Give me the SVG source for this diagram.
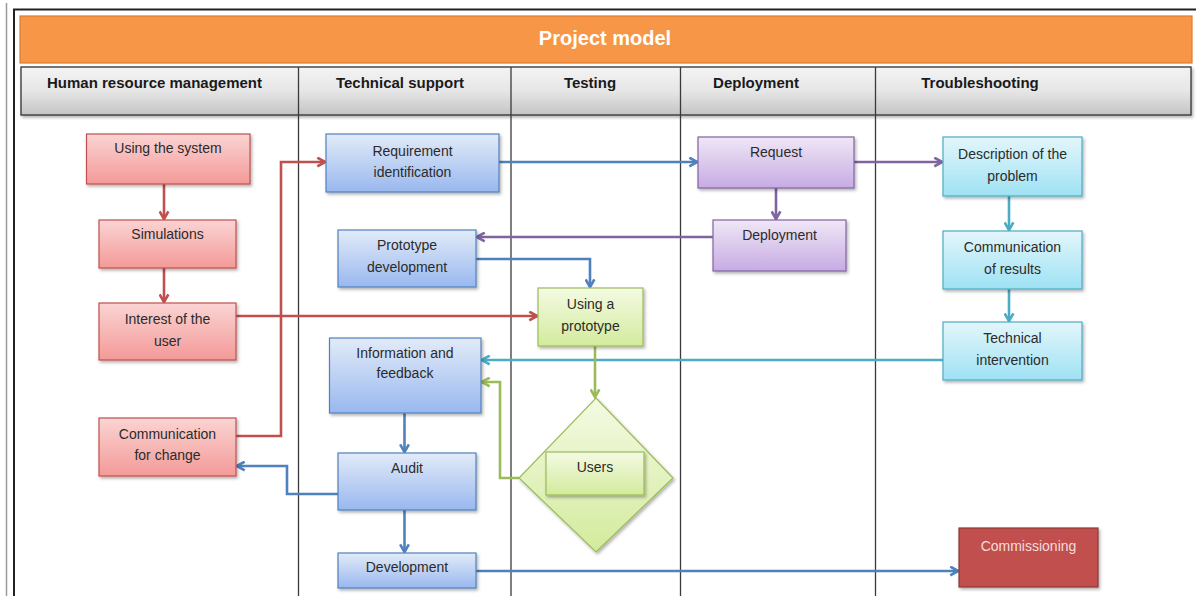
<svg xmlns="http://www.w3.org/2000/svg" width="1196" height="596" viewBox="0 0 1196 596">
  <style>
    .lbl { font-family: "Liberation Sans", Arial, sans-serif; font-size: 14px; fill: #2b2b2b; text-anchor: middle; }
    .hdr { font-family: "Liberation Sans", Arial, sans-serif; font-size: 15px; font-weight: bold; fill: #1a1a1a; text-anchor: middle; }
    .ttl { font-family: "Liberation Sans", Arial, sans-serif; font-size: 20px; font-weight: bold; fill: #ffffff; text-anchor: middle; }
    .lane { stroke: #3a3a3a; stroke-width: 1.3; }
    .n-red { fill: url(#gRed); stroke: #c0504d; stroke-width: 1.2; filter: url(#shadow); }
    .n-blue { fill: url(#gBlue); stroke: #4f81bd; stroke-width: 1.2; filter: url(#shadow); }
    .n-purple { fill: url(#gPurple); stroke: #8064a2; stroke-width: 1.2; filter: url(#shadow); }
    .n-cyan { fill: url(#gCyan); stroke: #4bacc6; stroke-width: 1.2; filter: url(#shadow); }
    .n-green { fill: url(#gGreen); stroke: #9bbb59; stroke-width: 1.2; filter: url(#shadow); }
    .c { fill: none; stroke-width: 2.6; stroke-linejoin: miter; }
    .c-red { stroke: #c0504d; marker-end: url(#aRed); }
    .c-blue { stroke: #4f81bd; marker-end: url(#aBlue); }
    .c-purple { stroke: #8064a2; marker-end: url(#aPurple); }
    .c-cyan { stroke: #4bacc6; marker-end: url(#aCyan); }
    .c-green { stroke: #9bbb59; marker-end: url(#aGreen); }
  </style>
  <defs>
    <linearGradient id="gRed" x1="0" y1="0" x2="0" y2="1">
      <stop offset="0" stop-color="#fad4d3"/>
      <stop offset="1" stop-color="#f39a98"/>
    </linearGradient>
    <linearGradient id="gBlue" x1="0" y1="0" x2="0" y2="1">
      <stop offset="0" stop-color="#e2ebf8"/>
      <stop offset="1" stop-color="#99b8ef"/>
    </linearGradient>
    <linearGradient id="gPurple" x1="0" y1="0" x2="0" y2="1">
      <stop offset="0" stop-color="#efe7f6"/>
      <stop offset="1" stop-color="#c7abe3"/>
    </linearGradient>
    <linearGradient id="gCyan" x1="0" y1="0" x2="0" y2="1">
      <stop offset="0" stop-color="#e3f6fb"/>
      <stop offset="1" stop-color="#9ee2f4"/>
    </linearGradient>
    <linearGradient id="gGreen" x1="0" y1="0" x2="0" y2="1">
      <stop offset="0" stop-color="#f4fae4"/>
      <stop offset="1" stop-color="#d3eb9c"/>
    </linearGradient>
    <linearGradient id="gHead" x1="0" y1="0" x2="0" y2="1">
      <stop offset="0" stop-color="#f4f4f4"/>
      <stop offset="0.5" stop-color="#e6e6e6"/>
      <stop offset="1" stop-color="#c4c4c4"/>
    </linearGradient>
    <filter id="shadow" x="-10%" y="-10%" width="125%" height="130%">
      <feDropShadow dx="1.5" dy="2" stdDeviation="1.5" flood-color="#000" flood-opacity="0.3"/>
    </filter>
    <marker id="aRed" viewBox="0 0 10 10" refX="8.5" refY="5" markerWidth="11" markerHeight="11" markerUnits="userSpaceOnUse" orient="auto">
      <path d="M1.5,1 L8.5,5 L1.5,9" fill="none" stroke="#c0504d" stroke-width="2.4"/>
    </marker>
    <marker id="aBlue" viewBox="0 0 10 10" refX="8.5" refY="5" markerWidth="11" markerHeight="11" markerUnits="userSpaceOnUse" orient="auto">
      <path d="M1.5,1 L8.5,5 L1.5,9" fill="none" stroke="#4f81bd" stroke-width="2.4"/>
    </marker>
    <marker id="aPurple" viewBox="0 0 10 10" refX="8.5" refY="5" markerWidth="11" markerHeight="11" markerUnits="userSpaceOnUse" orient="auto">
      <path d="M1.5,1 L8.5,5 L1.5,9" fill="none" stroke="#8064a2" stroke-width="2.4"/>
    </marker>
    <marker id="aCyan" viewBox="0 0 10 10" refX="8.5" refY="5" markerWidth="11" markerHeight="11" markerUnits="userSpaceOnUse" orient="auto">
      <path d="M1.5,1 L8.5,5 L1.5,9" fill="none" stroke="#4bacc6" stroke-width="2.4"/>
    </marker>
    <marker id="aGreen" viewBox="0 0 10 10" refX="8.5" refY="5" markerWidth="11" markerHeight="11" markerUnits="userSpaceOnUse" orient="auto">
      <path d="M1.5,1 L8.5,5 L1.5,9" fill="none" stroke="#9bbb59" stroke-width="2.4"/>
    </marker>
  </defs>

  <rect x="0" y="0" width="1196" height="596" fill="#ffffff"/>

  <!-- pool frame -->
  <g id="frame">
    <line x1="6.5" y1="3" x2="6.5" y2="596" stroke="#9a9a9a" stroke-width="1.5"/>
    <path d="M14,596 V9.5 H1196" fill="none" stroke="#222" stroke-width="2"/>
  </g>

  <!-- title bar -->
  <g id="title">
    <rect x="20" y="16" width="1172" height="47" fill="#f79646" stroke="#e07b2e" stroke-width="1.2"/>
    <text class="ttl" x="605" y="45">Project model</text>
  </g>

  <!-- lane header row -->
  <g id="lane-headers">
    <rect x="21" y="67" width="1170" height="48" fill="url(#gHead)" stroke="#333" stroke-width="1.3" filter="url(#shadow)"/>
    <text class="hdr" x="154.5" y="88">Human resource management</text>
    <text class="hdr" x="400" y="88">Technical support</text>
    <text class="hdr" x="590" y="88">Testing</text>
    <text class="hdr" x="756" y="88">Deployment</text>
    <text class="hdr" x="980" y="88">Troubleshooting</text>
  </g>

  <!-- lane separators -->
  <g id="lanes">
    <line class="lane" x1="298.5" y1="67" x2="298.5" y2="596"/>
    <line class="lane" x1="511" y1="67" x2="511" y2="596"/>
    <line class="lane" x1="680.5" y1="67" x2="680.5" y2="596"/>
    <line class="lane" x1="875.5" y1="67" x2="875.5" y2="596"/>
  </g>

  <!-- connectors -->
  <g id="connectors">
    <path class="c c-red" d="M164,184 V219"/>
    <path class="c c-red" d="M164,268 V302"/>
    <path class="c c-red" d="M236,316 H537"/>
    <path class="c c-red" d="M236,436 H281 V162 H325"/>
    <path class="c c-blue" d="M499,162 H697"/>
    <path class="c c-blue" d="M476,259 H590 V287"/>
    <path class="c c-blue" d="M404.5,413 V452"/>
    <path class="c c-blue" d="M404.5,510 V552"/>
    <path class="c c-blue" d="M338,494 H287 V466 H237"/>
    <path class="c c-blue" d="M476,571 H958"/>
    <path class="c c-purple" d="M854,162 H942"/>
    <path class="c c-purple" d="M776,188 V219"/>
    <path class="c c-purple" d="M713,237 H477"/>
    <path class="c c-cyan" d="M1009,196 V230"/>
    <path class="c c-cyan" d="M1009,289 V321"/>
    <path class="c c-cyan" d="M943,360 H482"/>
    <path class="c c-green" d="M595,346 V397"/>
    <path class="c c-green" d="M519,478 H500 V382 H482"/>
  </g>

  <!-- Human resource management lane -->
  <g id="using-the-system">
    <rect class="n-red" x="86.5" y="134" width="163.5" height="50"/>
    <text class="lbl" x="168" y="153">Using the system</text>
  </g>
  <g id="simulations">
    <rect class="n-red" x="99" y="220" width="137" height="48"/>
    <text class="lbl" x="167.5" y="239">Simulations</text>
  </g>
  <g id="interest-of-the-user">
    <rect class="n-red" x="99" y="303" width="137" height="57"/>
    <text class="lbl" x="167.5" y="324">Interest of the</text>
    <text class="lbl" x="167.5" y="346">user</text>
  </g>
  <g id="communication-for-change">
    <rect class="n-red" x="99" y="418" width="137" height="58"/>
    <text class="lbl" x="167.5" y="439">Communication</text>
    <text class="lbl" x="167.5" y="460">for change</text>
  </g>

  <!-- Technical support lane -->
  <g id="requirement-identification">
    <rect class="n-blue" x="326" y="134" width="173" height="58"/>
    <text class="lbl" x="412.5" y="156">Requirement</text>
    <text class="lbl" x="412.5" y="177">identification</text>
  </g>
  <g id="prototype-development">
    <rect class="n-blue" x="338" y="230" width="138" height="57"/>
    <text class="lbl" x="407" y="250">Prototype</text>
    <text class="lbl" x="407" y="272">development</text>
  </g>
  <g id="information-and-feedback">
    <rect class="n-blue" x="329.5" y="338" width="151.5" height="75"/>
    <text class="lbl" x="405" y="358">Information and</text>
    <text class="lbl" x="405" y="378">feedback</text>
  </g>
  <g id="audit">
    <rect class="n-blue" x="338" y="453" width="138" height="57"/>
    <text class="lbl" x="407" y="473">Audit</text>
  </g>
  <g id="development">
    <rect class="n-blue" x="338" y="553" width="138" height="35"/>
    <text class="lbl" x="407" y="572">Development</text>
  </g>

  <!-- Testing lane -->
  <g id="using-a-prototype">
    <rect class="n-green" x="538" y="288" width="105" height="58"/>
    <text class="lbl" x="590.5" y="309">Using a</text>
    <text class="lbl" x="590.5" y="331">prototype</text>
  </g>
  <g id="users">
    <polygon class="n-green" points="596,398 673,478 596,552 519,478"/>
    <rect x="546" y="452" width="98" height="43" fill="url(#gGreen)" stroke="#9bbb59" stroke-width="1.2" filter="url(#shadow)"/>
    <text class="lbl" x="595" y="472">Users</text>
  </g>

  <!-- Deployment lane -->
  <g id="request">
    <rect class="n-purple" x="698" y="137" width="156" height="51"/>
    <text class="lbl" x="776" y="157">Request</text>
  </g>
  <g id="deployment">
    <rect class="n-purple" x="713" y="220" width="133" height="51"/>
    <text class="lbl" x="779.5" y="240">Deployment</text>
  </g>

  <!-- Troubleshooting lane -->
  <g id="description-of-the-problem">
    <rect class="n-cyan" x="943" y="137" width="139" height="59"/>
    <text class="lbl" x="1012.5" y="159">Description of the</text>
    <text class="lbl" x="1012.5" y="181">problem</text>
  </g>
  <g id="communication-of-results">
    <rect class="n-cyan" x="943" y="231" width="139" height="58"/>
    <text class="lbl" x="1012.5" y="252">Communication</text>
    <text class="lbl" x="1012.5" y="274">of results</text>
  </g>
  <g id="technical-intervention">
    <rect class="n-cyan" x="943" y="322" width="139" height="58"/>
    <text class="lbl" x="1012.5" y="343">Technical</text>
    <text class="lbl" x="1012.5" y="365">intervention</text>
  </g>
  <g id="commissioning">
    <rect x="959" y="528" width="139" height="59" fill="#c0504d" stroke="#8c3836" stroke-width="1.2" filter="url(#shadow)"/>
    <text class="lbl" x="1028.5" y="551" style="fill:#f6dcdb">Commissioning</text>
  </g>
</svg>
